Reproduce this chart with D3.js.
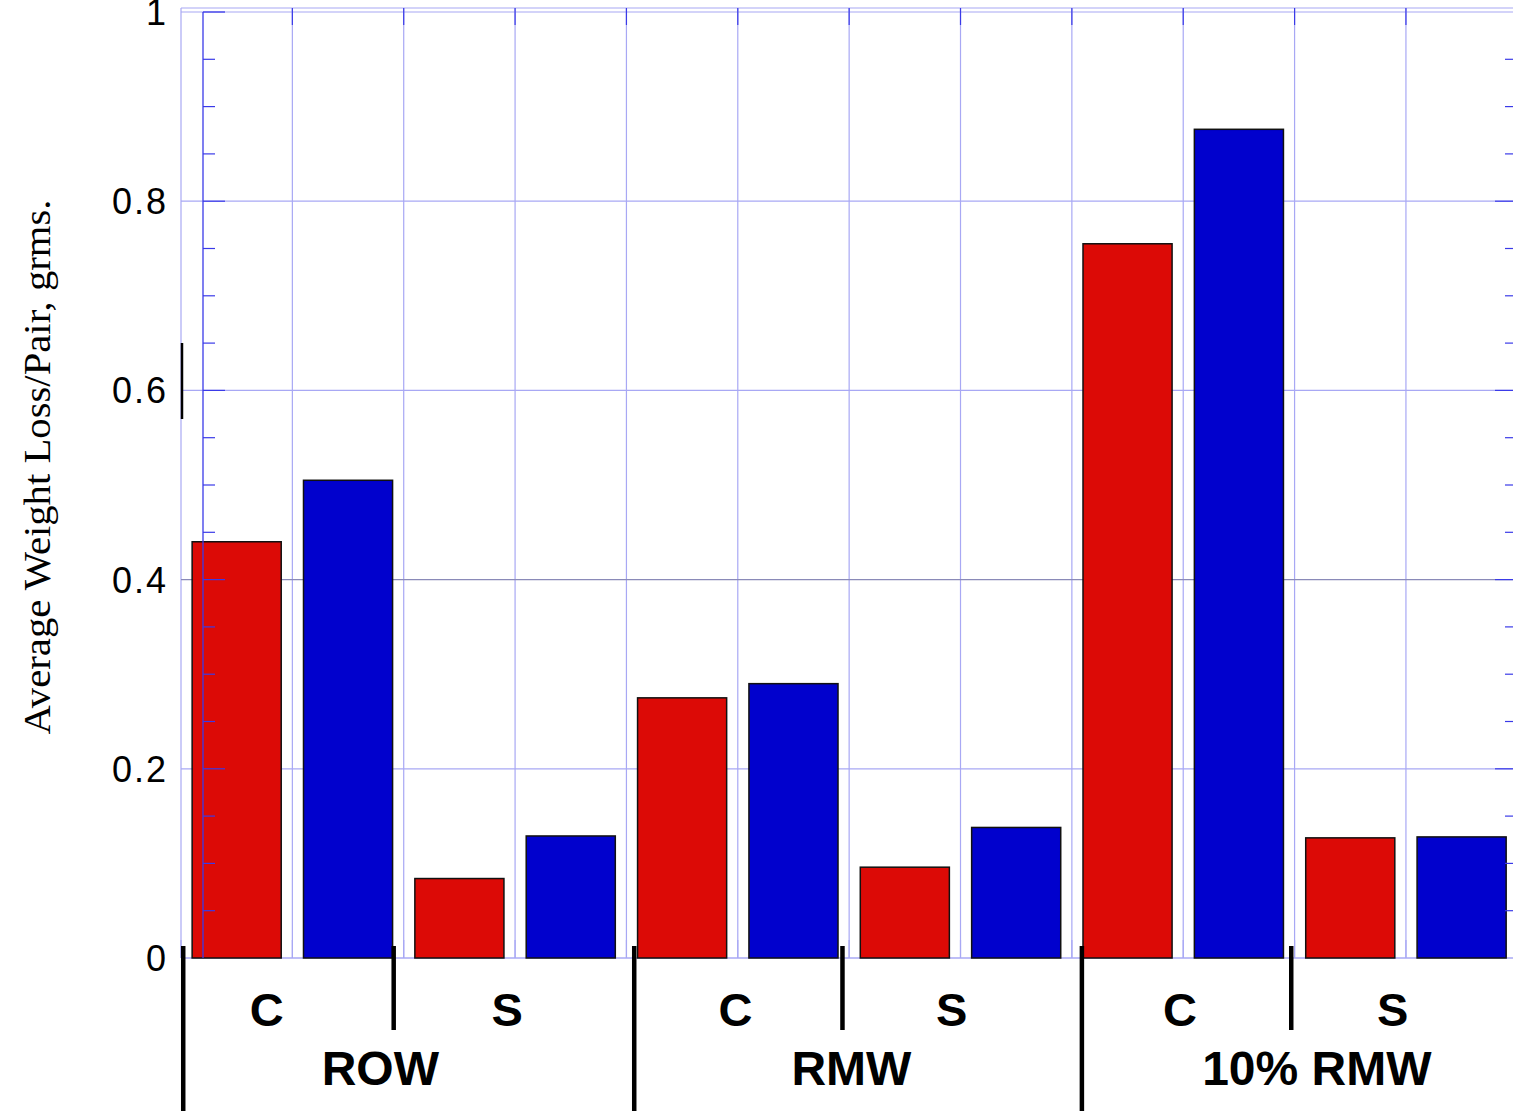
<!DOCTYPE html>
<html><head><meta charset="utf-8">
<script src="https://cdn.jsdelivr.net/npm/d3@7"></script>
<style>html,body{margin:0;padding:0;background:#fff;overflow:hidden}</style>
</head><body>
<svg id="c" width="1513" height="1111"></svg>
<script>
// ---- data ----
const groups = ["ROW", "RMW", "10% RMW"];
const subgroups = ["C", "S"];
const redValues  = [0.44, 0.084, 0.275, 0.096, 0.755, 0.127];
const blueValues = [0.505, 0.129, 0.29, 0.138, 0.876, 0.128];
const yTicks = [0, 0.2, 0.4, 0.6, 0.8, 1];
const yTickLabels = ["0", "0.2", "0.4", "0.6", "0.8", "1"];
const yTitle = "Average Weight Loss/Pair, grms.";
// label positions in slot units (one slot = one bar)
const subLabelPos = [0.77, 2.93, 4.98, 6.92, 8.97, 10.88];
const groupLabelPos = [1.79, 6.02, 10.2];
const separatorPos = [0.02, 1.91, 4.07, 5.94, 8.09, 9.97];
const separatorLong = [true, false, true, false, true, false];

(function () {
// ---- layout ----
const svg = d3.select("#c");
const pLeft = 181, pRight = 1517.3, pTop = 11, pBottom = 958;
const slots = d3.range(12);
const x = d3.scaleBand().domain(slots).range([pLeft, pRight]).paddingInner(0.2).paddingOuter(0.1);
const u = d3.scaleLinear().domain([0, 12]).range([pLeft, pRight]);
const y = d3.scaleLinear().domain([0, 1]).range([pBottom, pTop + 1]);

const bars = [];
redValues.forEach((v, i) => {
  bars.push({slot: i * 2, value: v, color: "#dc0a06"});
  bars.push({slot: i * 2 + 1, value: blueValues[i], color: "#0101cd"});
});

const light = "#a8a8f4", dark = "#3a3ae8";

// grid
const g = svg.append("g");
g.selectAll(".vg").data(d3.range(13)).join("line")
  .attr("x1", d => u(d)).attr("x2", d => u(d))
  .attr("y1", 8).attr("y2", pBottom).attr("stroke", light).attr("stroke-width", 1.2);
g.selectAll(".hg").data([0.2, 0.4, 0.6, 0.8]).join("line")
  .attr("x1", pLeft).attr("x2", 1513).attr("y1", d => y(d)).attr("y2", d => y(d))
  .attr("stroke", d => d === 0.4 ? "#8a8ab8" : light).attr("stroke-width", 1.2);
g.append("line").attr("x1", pLeft).attr("x2", 1513).attr("y1", 8).attr("y2", 8).attr("stroke", light).attr("stroke-width", 1.2);
g.append("line").attr("x1", pLeft).attr("x2", 1513).attr("y1", y(1)).attr("y2", y(1)).attr("stroke", light).attr("stroke-width", 1.2);
g.append("line").attr("x1", pLeft).attr("x2", 1513).attr("y1", pBottom).attr("y2", pBottom).attr("stroke", light).attr("stroke-width", 1.5);
g.selectAll(".tt").data(d3.range(1, 12)).join("line")
  .attr("x1", d => u(d)).attr("x2", d => u(d)).attr("y1", 8).attr("y2", 25)
  .attr("stroke", dark).attr("stroke-width", 1.2);
g.selectAll(".bt").data(d3.range(0, 12)).join("line")
  .attr("x1", d => u(d)).attr("x2", d => u(d)).attr("y1", 940).attr("y2", pBottom)
  .attr("stroke", light).attr("stroke-width", 1.2);

// bars
svg.append("g").selectAll("rect").data(bars).join("rect")
  .attr("x", d => x(d.slot)).attr("width", x.bandwidth())
  .attr("y", d => y(d.value)).attr("height", d => y(0) - y(d.value))
  .attr("fill", d => d.color).attr("stroke", "#111").attr("stroke-width", 1.5);

// inner left axis (drawn over bars)
const ax = svg.append("g");
const axX = 203;
ax.append("line").attr("x1", axX).attr("x2", axX).attr("y1", y(1)).attr("y2", pBottom).attr("stroke", dark).attr("stroke-width", 1.3);
ax.append("line").attr("x1", axX).attr("x2", 225).attr("y1", y(1)).attr("y2", y(1)).attr("stroke", dark).attr("stroke-width", 1.3);
const minor = d3.range(1, 20).map(i => i * 0.05);
ax.selectAll(".mt").data(minor).join("line")
  .attr("x1", axX).attr("x2", (d, i) => (i + 1) % 4 === 0 ? 225 : 215)
  .attr("y1", d => y(d)).attr("y2", d => y(d)).attr("stroke", dark).attr("stroke-width", 1.2);
ax.selectAll(".rt").data(minor).join("line")
  .attr("x1", (d, i) => (i + 1) % 4 === 0 ? 1495 : 1505).attr("x2", 1513)
  .attr("y1", d => y(d)).attr("y2", d => y(d)).attr("stroke", dark).attr("stroke-width", 1.2);

// y tick labels
svg.append("g").selectAll("text").data(yTicks).join("text")
  .attr("x", 168).attr("y", d => y(d)).attr("dy", "0.36em")
  .attr("text-anchor", "end")
  .attr("font-family", "Liberation Sans, Arial, sans-serif").attr("font-size", 36)
  .attr("letter-spacing", 2)
  .text((d, i) => yTickLabels[i]);

// y title
svg.append("text")
  .attr("transform", "translate(50,467) rotate(-90)")
  .attr("text-anchor", "middle")
  .attr("font-family", "Liberation Serif, Times New Roman, serif").attr("font-size", 37)
  .attr("textLength", 535).attr("lengthAdjust", "spacingAndGlyphs")
  .text(yTitle);

// little black mark on left
svg.append("line").attr("x1", 182).attr("x2", 182).attr("y1", 343).attr("y2", 419)
  .attr("stroke", "#000").attr("stroke-width", 2.5);

// separators
svg.append("g").selectAll("line").data(separatorPos).join("line")
  .attr("x1", d => u(d)).attr("x2", d => u(d))
  .attr("y1", 946).attr("y2", (d, i) => separatorLong[i] ? 1111 : 1030)
  .attr("stroke", "#000").attr("stroke-width", 4.5);

// sub labels
svg.append("g").selectAll("text").data(subLabelPos).join("text")
  .attr("x", d => u(d)).attr("y", 1026).attr("text-anchor", "middle")
  .attr("font-family", "Liberation Sans, Arial, sans-serif").attr("font-weight", "bold").attr("font-size", 47)
  .text((d, i) => subgroups[i % 2]);

// group labels
svg.append("g").selectAll("text").data(groupLabelPos).join("text")
  .attr("x", d => u(d)).attr("y", 1085).attr("text-anchor", "middle")
  .attr("font-family", "Liberation Sans, Arial, sans-serif").attr("font-weight", "bold").attr("font-size", 48)
  .text((d, i) => groups[i]);
})();
</script>
</body></html>
